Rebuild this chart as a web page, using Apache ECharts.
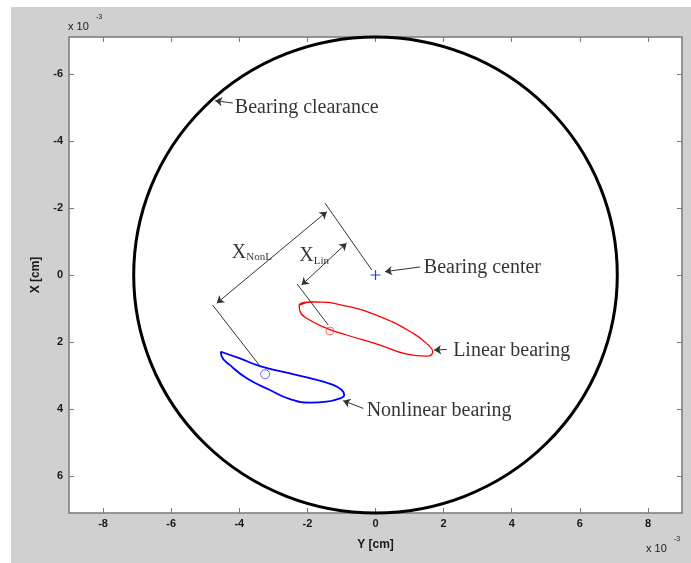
<!DOCTYPE html>
<html>
<head>
<meta charset="utf-8">
<script src="https://cdn.jsdelivr.net/npm/echarts@6/dist/echarts.min.js"></script>
<style>html,body{margin:0;padding:0;background:#fff;}#c{width:691px;height:563px;}</style>
</head>
<body>
<div id="c"></div>
<script>
// ---- data (units of 1e-3 cm): [Y, X] ----
const xTicks = [-8, -6, -4, -2, 0, 2, 4, 6, 8];
const yTicks = [-6, -4, -2, 0, 2, 4, 6];
const clearanceCenter = [0, 0];
const clearanceRadius = 7.1;
const linearOrbit = [
  [-2.24,0.90],[-1.83,0.80],[-0.85,0.93],[0.13,1.24],[1.11,1.74],[1.55,2.09],[1.68,2.29],
  [1.50,2.42],[0.92,2.36],[0.13,2.09],[-0.85,1.79],[-1.43,1.59],[-2.02,1.29],[-2.22,1.07],
  [-2.24,0.90],[-1.83,0.80]
];
const nonlinearOrbit = [
  [-4.54,2.29],[-3.98,2.49],[-3.39,2.72],[-2.71,2.89],[-1.92,3.08],[-1.24,3.28],[-0.99,3.43],
  [-0.92,3.58],[-1.04,3.68],[-1.43,3.78],[-1.92,3.81],[-2.51,3.70],[-3.10,3.43],[-3.78,3.08],
  [-4.27,2.69],[-4.52,2.42],[-4.54,2.29],[-3.98,2.49]
];
const bearingCenter = [[0, 0]];
const linearPoint = [[-1.34, 1.67]];
const nonlinearPoint = [[-3.24, 2.96]];
const leaderLines = [
  [[-0.11,-0.15],[-1.48,-2.14]],
  [[-3.39,2.72],[-4.78,0.90]],
  [[-1.39,1.49],[-2.30,0.27]]
];
const dimensionArrows = [
  [[-4.66,0.84],[-1.43,-1.89]],
  [[-2.17,0.30],[-0.85,-0.95]]
];
const pointerArrows = [
  [[-4.19,-5.13],[-4.71,-5.20]],
  [[1.31,-0.24],[0.28,-0.10]],
  [[2.09,2.22],[1.72,2.24]],
  [[-0.36,3.98],[-0.95,3.75]]
];
const textLabels = [
  {name:'Bearing clearance', value:[-4.13,-5.0]},
  {name:'Bearing center', value:[1.42,-0.22]},
  {name:'Linear bearing', value:[2.28,2.27]},
  {name:'Nonlinear bearing', value:[-0.26,4.06]},
  {name:'{x|X}{s|NonL}', value:[-4.22,-0.66]},
  {name:'{x|X}{s|Lin}', value:[-2.24,-0.56]}
];

const chart = echarts.init(document.getElementById('c'), null, {renderer:'canvas'});
const tickFont = {fontFamily:'Liberation Sans, Arial, sans-serif', fontSize:11, fontWeight:'bold', color:'#1a1a1a'};
const serif = 'Liberation Serif, Times New Roman, serif';
const frame = '#7a7a7a';
function xAx(pos, show) {
  return {
    type:'value', min:-9, max:9, position:pos,
    axisLine:{show:false, onZero:false}, splitLine:{show:false},
    axisTick:{show:true, inside:true, length:5, customValues:xTicks, lineStyle:{color:frame, width:1}},
    axisLabel:Object.assign({show:show, margin:5, customValues:xTicks}, tickFont),
    name: show ? 'Y [cm]' : '', nameLocation:'middle', nameGap:26,
    nameTextStyle:{fontFamily:'Liberation Sans, Arial, sans-serif', fontSize:12, fontWeight:'bold', color:'#1a1a1a'}
  };
}
function yAx(pos, show) {
  return {
    type:'value', min:-7.1, max:7.1, inverse:true, position:pos,
    axisLine:{show:false, onZero:false}, splitLine:{show:false},
    axisTick:{show:true, inside:true, length:5, customValues:yTicks, lineStyle:{color:frame, width:1}},
    axisLabel:Object.assign({show:show, margin:6, customValues:yTicks}, tickFont),
    name: show ? 'X [cm]' : '', nameLocation:'middle', nameGap:27, nameRotate:90,
    nameTextStyle:{fontFamily:'Liberation Sans, Arial, sans-serif', fontSize:12, fontWeight:'bold', color:'#1a1a1a'}
  };
}
chart.setOption({
  animation:false,
  backgroundColor:'#d0d0d0',
  graphic:[
    {type:'rect', shape:{x:0,y:0,width:691,height:7}, style:{fill:'#fff'}, silent:true},
    {type:'rect', shape:{x:0,y:0,width:11,height:563}, style:{fill:'#fff'}, silent:true},
    {type:'text', left:68, top:21, style:{text:'x 10', font:'11px Liberation Sans, Arial, sans-serif', fill:'#1a1a1a'}},
    {type:'text', left:96, top:14, style:{text:'-3', font:'7px Liberation Sans, Arial, sans-serif', fill:'#1a1a1a'}},
    {type:'text', left:646, top:543, style:{text:'x 10', font:'11px Liberation Sans, Arial, sans-serif', fill:'#1a1a1a'}},
    {type:'text', left:674, top:536, style:{text:'-3', font:'7px Liberation Sans, Arial, sans-serif', fill:'#1a1a1a'}}
  ],
  grid:{left:69, top:37, width:613, height:476, show:true, backgroundColor:'#fff', borderColor:frame, borderWidth:1.5},
  xAxis:[xAx('bottom', true), xAx('top', false)],
  yAxis:[yAx('left', true), yAx('right', false)],
  series:[
    {type:'custom', name:'clearance', data:[[clearanceCenter[0], clearanceCenter[1], clearanceRadius]], z:3,
     renderItem:function(params, api){
       const c = api.coord([api.value(0), api.value(1)]);
       const s = api.size([api.value(2), api.value(2)]);
       const rx = s[0], ry = s[1];
       const d = 'M' + (c[0]-rx) + ' ' + c[1] +
                 ' A' + rx + ' ' + ry + ' 0 1 0 ' + (c[0]+rx) + ' ' + c[1] +
                 ' A' + rx + ' ' + ry + ' 0 1 0 ' + (c[0]-rx) + ' ' + c[1] + ' Z';
       return {type:'path', shape:{pathData:d}, style:{fill:'none', stroke:'#000', lineWidth:3}};
     }},
    {type:'line', name:'linear', data:linearOrbit, smooth:true, symbol:'none',
     lineStyle:{color:'#ff0000', width:1.3}, z:3},
    {type:'line', name:'nonlinear', data:nonlinearOrbit, smooth:true, symbol:'none',
     lineStyle:{color:'#0000ff', width:1.8}, z:3},
    {type:'lines', coordinateSystem:'cartesian2d', polyline:false,
     data:leaderLines.map(c=>({coords:c})), symbol:['none','none'],
     lineStyle:{color:'#333', width:1, opacity:1}, z:4},
    {type:'lines', coordinateSystem:'cartesian2d', polyline:false,
     data:dimensionArrows.map(c=>({coords:c})), symbol:['arrow','arrow'], symbolSize:7,
     lineStyle:{color:'#333', width:1, opacity:1}, z:4},
    {type:'lines', coordinateSystem:'cartesian2d', polyline:false,
     data:pointerArrows.map(c=>({coords:c})), symbol:['none','arrow'], symbolSize:7,
     lineStyle:{color:'#333', width:1, opacity:1}, z:4},
    {type:'scatter', data:bearingCenter, symbol:'path://M4.4,0H5.6V10H4.4ZM0,4.4H10V5.6H0Z', symbolSize:10,
     itemStyle:{color:'#0000ff'}, z:5},
    {type:'scatter', data:linearPoint, symbol:'circle', symbolSize:8,
     itemStyle:{color:'rgba(255,255,255,0)', borderColor:'#ff4040', borderWidth:1}, z:5},
    {type:'scatter', data:nonlinearPoint, symbol:'circle', symbolSize:9,
     itemStyle:{color:'rgba(255,255,255,0)', borderColor:'#4040ff', borderWidth:1}, z:5},
    {type:'scatter', data:textLabels, symbolSize:0, z:6,
     label:{show:true, position:[0,0], align:'left', verticalAlign:'middle', formatter:'{b}',
       fontFamily:serif, fontSize:20, color:'#000',
       rich:{
         x:{fontFamily:serif, fontSize:20, color:'#000', lineHeight:20},
         s:{fontFamily:serif, fontSize:11, color:'#000', lineHeight:10, verticalAlign:'bottom'}
       }}}
  ]
});
</script>
</body>
</html>
